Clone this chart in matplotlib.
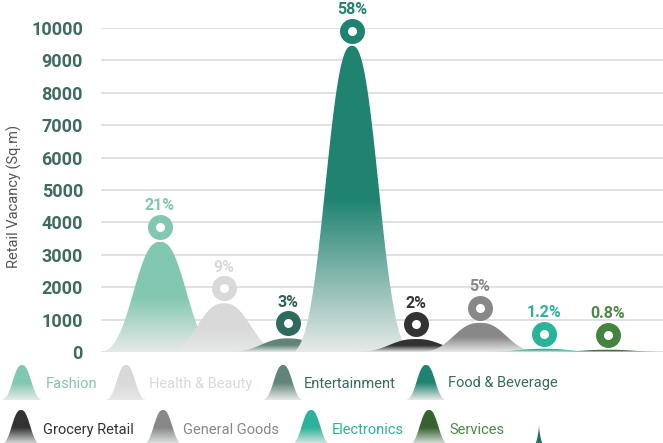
import numpy as np
import matplotlib
matplotlib.use('Agg')
import matplotlib.pyplot as plt
import matplotlib.transforms as mtransforms
from matplotlib.colors import to_rgb
from matplotlib.patches import Polygon

plt.rcParams['font.family'] = ['Roboto', 'DejaVu Sans']

# data
categories = ['Fashion', 'Health & Beauty', 'Entertainment', 'Food & Beverage',
              'Grocery Retail', 'General Goods', 'Electronics', 'Services']
vacancy = [3400, 1500, 420, 9450, 400, 900, 100, 70]
share_labels = ['21%', '9%', '3%', '58%', '2%', '5%', '1.2%', '0.8%']
y_ticks = list(range(0, 10001, 1000))

shape_colors = ['#82c7b1', '#d9d9d9', '#62847a', '#1f8370',
                '#333333', '#888888', '#2bb39a', '#35622f']
ring_colors = ['#82c7b1', '#d9d9d9', '#2f6a5c', '#1f8370',
               '#333333', '#888888', '#2bb39a', '#458440']
text_colors = ['#82c7b1', '#d9d9d9', '#346b5e', '#346b5e',
               '#333333', '#888888', '#2bb39a', '#4a8a44']
label_colors = ['#82c7b1', '#d9d9d9', '#2f5e52', '#1f8370',
                '#333333', '#888888', '#2bb39a', '#4a8a44']
extra_color = '#2b6b60'

LIGHT = np.array(to_rgb('#e6e9e8'))


def gradient(color, n=120):
    c = np.array(to_rgb(color))
    f = np.linspace(0, 1, n)
    w = np.clip(f / 0.5, 0, 1)[:, None]
    rows = LIGHT * (1 - w) + c * w
    return rows[:, None, :]


def bell(cx, base, h, half, n=160):
    # bell curve, reaches the base at +-half
    dx = np.linspace(-half, half, n)
    g = np.exp(-np.abs(dx / (0.567 * half)) ** 2.5)
    y = base + h * (g - g[0]) / (1 - g[0])
    return np.column_stack([cx + dx, y])


def draw_shape(ax, pts, color, x0, x1, y0, y1, z):
    poly = Polygon(pts, closed=True, facecolor='none', edgecolor='none')
    ax.add_patch(poly)
    im = ax.imshow(gradient(color), extent=[x0, x1, y0, y1], origin='lower',
                   aspect='auto', interpolation='bilinear', zorder=z)
    im.set_clip_path(poly)


fig = plt.figure(figsize=(6.63, 4.43), dpi=100)
ax = fig.add_axes([101 / 663, 91 / 443, 562 / 663, 324 / 443])

half = 0.9
for i, v in enumerate(vacancy):
    pts = bell(i, 0, v, half)
    draw_shape(ax, pts, shape_colors[i], i - half, i + half, 0, v, 2 + i * 0.1)

ring_trans = mtransforms.offset_copy(ax.transData, fig=fig, y=15, units='dots')
for i, v in enumerate(vacancy):
    ax.plot(i, v, 'o', ms=18, color=ring_colors[i], mec='none',
            transform=ring_trans, zorder=10, clip_on=False)
    ax.plot(i, v, 'o', ms=6.5, color='white', mec='none',
            transform=ring_trans, zorder=11, clip_on=False)
    ax.annotate(share_labels[i], (i, v), xytext=(0, 36), textcoords='offset pixels',
                ha='center', va='center', fontsize=11.5, fontweight='bold',
                color=label_colors[i], zorder=12, annotation_clip=False)

ax.set_xlim(-0.922, -0.922 + 562 / 64)
ax.set_ylim(0, 10000)
ax.set_yticks(y_ticks)
ax.set_xticks([])
ax.tick_params(axis='y', length=0, pad=13, labelsize=13, labelcolor='#3d6b5f')
for t in ax.get_yticklabels():
    t.set_fontweight('bold')
ax.grid(axis='y', color='#dcdcdc', lw=1.2)
ax.set_axisbelow(True)
for s in ax.spines.values():
    s.set_visible(False)
ax.set_ylabel('Retail Vacancy (Sq.m)', fontsize=10.5, color='#555555')
ax.yaxis.set_label_coords(-0.141, 0.48)

# legend drawn in pixel coordinates
lax = fig.add_axes([0, 0, 1, 1], zorder=-1)
lax.set_xlim(0, 663)
lax.set_ylim(0, 443)
lax.axis('off')

icon_x = [22, 126, 283, 426, 21, 163, 311, 429]
text_x = [46, 149, 304, 448, 43, 183, 332, 449]
row_base = [400, 400, 400, 400, 445, 445, 445, 445]
row_text = [384, 384, 384, 383, 430, 430, 430, 430]
for i, name in enumerate(categories):
    base = 443 - row_base[i]
    pts = bell(icon_x[i], base, 35, 20)
    draw_shape(lax, pts, shape_colors[i], icon_x[i] - 20, icon_x[i] + 20,
               base, base + 35, 1)
    lax.text(text_x[i], 443 - row_text[i], name, fontsize=10.5,
             color=text_colors[i], ha='left', va='center')

# last legend entry: a narrow spike with no name
t = np.linspace(0, 1, 40)
hw = 7 * (1 - t) ** 2
ys = 443 - 453 + 30 * t
spike = np.concatenate([np.column_stack([539 - hw, ys]),
                        np.column_stack([539 + hw, ys])[::-1]])
lax.add_patch(Polygon(spike, closed=True, facecolor=extra_color, edgecolor='none'))
lax.set_xlim(0, 663)
lax.set_ylim(0, 443)

fig.savefig('out.png', dpi=100)
